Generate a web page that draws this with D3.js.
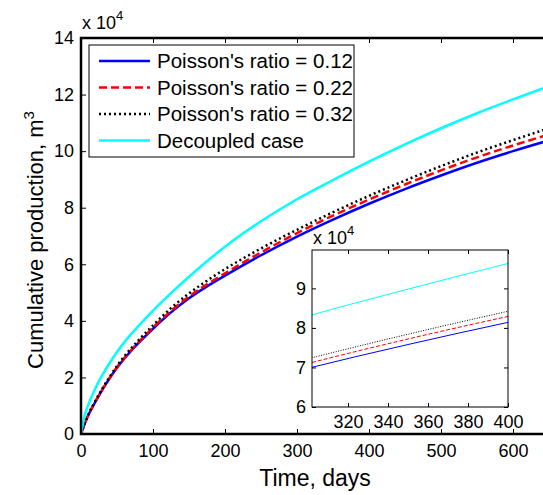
<!DOCTYPE html>
<html>
<head>
<meta charset="utf-8">
<script src="https://cdn.jsdelivr.net/npm/d3@7"></script>
<style>
  body { margin: 0; background: #fff; }
  svg { display: block; font-family: Arial, "Liberation Sans", sans-serif; }
</style>
</head>
<body>
<svg id="chart" width="543" height="495"></svg>
<script>
// time in days, production in units of 1e4 m^3
const time = [0, 5, 10, 20, 30, 40, 50, 60, 80, 100, 125, 150, 175, 200, 250, 300, 350, 400, 450, 500, 550, 600, 650]
const nu012 = [0, 0.36, 0.66, 1.14, 1.58, 1.98, 2.34, 2.66, 3.22, 3.72, 4.3, 4.8, 5.22, 5.6, 6.32, 6.98, 7.58, 8.14, 8.66, 9.14, 9.59, 10.0, 10.38]
const nu022 = [0, 0.36, 0.66, 1.15, 1.59, 1.99, 2.36, 2.68, 3.25, 3.76, 4.35, 4.86, 5.29, 5.68, 6.42, 7.1, 7.72, 8.29, 8.82, 9.32, 9.78, 10.2, 10.59]
const nu032 = [0, 0.36, 0.67, 1.17, 1.62, 2.03, 2.41, 2.74, 3.32, 3.84, 4.45, 4.97, 5.42, 5.83, 6.56, 7.22, 7.84, 8.42, 8.96, 9.47, 9.95, 10.39, 10.81]
const decoupled = [0, 0.65, 1.02, 1.62, 2.1, 2.52, 2.9, 3.24, 3.82, 4.36, 4.98, 5.56, 6.11, 6.62, 7.52, 8.3, 8.98, 9.63, 10.24, 10.81, 11.34, 11.83, 12.3]

const seriesNames = ["Poisson's ratio = 0.12", "Poisson's ratio = 0.22", "Poisson's ratio = 0.32", "Decoupled case"]
const seriesValues = [nu012, nu022, nu032, decoupled]
const seriesColors = ['#0000ff', '#ff0000', '#000000', '#00ffff']
const seriesDash = [null, '8,4', '2,3', null]

const xTicks = [0, 100, 200, 300, 400, 500, 600]
const yTicks = [0, 2, 4, 6, 8, 10, 12, 14]
const insetXTicks = [320, 340, 360, 380, 400]
const insetYTicks = [6, 7, 8, 9]

const svg = d3.select('#chart')
const series = seriesValues.map((vals, i) => ({
  name: seriesNames[i], color: seriesColors[i], dash: seriesDash[i],
  points: vals.map((v, j) => [time[j], v])
}))

// main axes
const x = d3.scaleLinear().domain([0, 650]).range([81, 549])
const y = d3.scaleLinear().domain([0, 14]).range([434, 38])

svg.append('clipPath').attr('id', 'mainClip')
  .append('rect').attr('x', 81).attr('y', 38).attr('width', 468).attr('height', 396)

const line = d3.line().x(d => x(d[0])).y(d => y(d[1])).curve(d3.curveMonotoneX)
svg.append('g').attr('clip-path', 'url(#mainClip)')
  .selectAll('path').data(series).enter().append('path')
  .attr('d', d => line(d.points))
  .attr('fill', 'none')
  .attr('stroke', d => d.color)
  .attr('stroke-width', 2.5)
  .attr('stroke-dasharray', d => d.dash)

const fontSize = 18
function styleAxis(g) {
  g.select('.domain').remove()
  g.selectAll('.tick line').attr('stroke', '#000').attr('stroke-width', 1)
  g.selectAll('.tick text').attr('font-size', fontSize).attr('fill', '#000')
}

svg.append('g').attr('transform', 'translate(0,434)')
  .call(d3.axisBottom(x).tickValues(xTicks).tickSize(-5).tickPadding(10).tickFormat(d3.format('d')))
  .call(styleAxis)
svg.append('g').attr('transform', 'translate(0,38)')
  .call(d3.axisTop(x).tickValues(xTicks).tickSize(-5).tickFormat(''))
  .call(styleAxis)
svg.append('g').attr('transform', 'translate(81,0)')
  .call(d3.axisLeft(y).tickValues(yTicks).tickSize(-5).tickPadding(7).tickFormat(d3.format('d')))
  .call(styleAxis)

// frame (thick, MATLAB style)
svg.append('path')
  .attr('d', `M549,38 H81 V434 H549`)
  .attr('fill', 'none').attr('stroke', '#000').attr('stroke-width', 2.5)

// exponent label
const expMain = svg.append('text').attr('x', 82).attr('y', 29).attr('font-size', fontSize)
expMain.append('tspan').text('x 10')
expMain.append('tspan').attr('dy', -9).attr('font-size', 13).text('4')

// axis titles
svg.append('text').attr('x', 315).attr('y', 486).attr('text-anchor', 'middle')
  .attr('font-size', 23).text('Time, days')
const yl = svg.append('text').attr('transform', 'translate(43,240) rotate(-90)')
  .attr('text-anchor', 'middle').attr('font-size', 22)
yl.append('tspan').text('Cumulative production, m')
yl.append('tspan').attr('dy', -9).attr('font-size', 15).text('3')

// legend
const legend = svg.append('g')
legend.append('rect').attr('x', 89).attr('y', 45).attr('width', 265).attr('height', 112)
  .attr('fill', '#fff').attr('stroke', '#000').attr('stroke-width', 1)
const rows = legend.selectAll('g.row').data(series).enter().append('g')
  .attr('transform', (d, i) => `translate(0,${61 + i * 26.5})`)
rows.append('line').attr('x1', 99).attr('x2', 150).attr('y1', 0).attr('y2', 0)
  .attr('stroke', d => d.color).attr('stroke-width', 2.5)
  .attr('stroke-dasharray', d => d.dash)
rows.append('text').attr('x', 157).attr('y', 0).attr('dy', '0.36em')
  .attr('font-size', 20.5).text(d => d.name)

// inset
const xi = d3.scaleLinear().domain([302, 400]).range([312, 508])
const yi = d3.scaleLinear().domain([6, 9.97]).range([407, 250])
const inset = svg.append('g')
inset.append('rect').attr('x', 312).attr('y', 250).attr('width', 196).attr('height', 157)
  .attr('fill', '#fff')
inset.append('clipPath').attr('id', 'insetClip')
  .append('rect').attr('x', 312).attr('y', 250).attr('width', 196).attr('height', 157)
const lineInset = d3.line().x(d => xi(d[0])).y(d => yi(d[1])).curve(d3.curveMonotoneX)
inset.append('g').attr('clip-path', 'url(#insetClip)')
  .selectAll('path').data(series).enter().append('path')
  .attr('d', d => lineInset(d.points))
  .attr('fill', 'none')
  .attr('stroke', d => d.color)
  .attr('stroke-width', 1)
  .attr('stroke-dasharray', d => d.dash ? (d.dash === '8,4' ? '4,2' : '1,1.5') : null)

inset.append('g').attr('transform', 'translate(0,407)')
  .call(d3.axisBottom(xi).tickValues(insetXTicks).tickSize(-4).tickPadding(8).tickFormat(d3.format('d')))
  .call(styleAxis)
inset.append('g').attr('transform', 'translate(0,250)')
  .call(d3.axisTop(xi).tickValues(insetXTicks).tickSize(-4).tickFormat(''))
  .call(styleAxis)
inset.append('g').attr('transform', 'translate(312,0)')
  .call(d3.axisLeft(yi).tickValues(insetYTicks).tickSize(-4).tickPadding(6).tickFormat(d3.format('d')))
  .call(styleAxis)
inset.append('g').attr('transform', 'translate(508,0)')
  .call(d3.axisRight(yi).tickValues(insetYTicks).tickSize(-4).tickFormat(''))
  .call(styleAxis)
inset.append('rect').attr('x', 312).attr('y', 250).attr('width', 196).attr('height', 157)
  .attr('fill', 'none').attr('stroke', '#000').attr('stroke-width', 1)
const expInset = inset.append('text').attr('x', 313).attr('y', 244).attr('font-size', fontSize)
expInset.append('tspan').text('x 10')
expInset.append('tspan').attr('dy', -9).attr('font-size', 13).text('4')
</script>
</body>
</html>
